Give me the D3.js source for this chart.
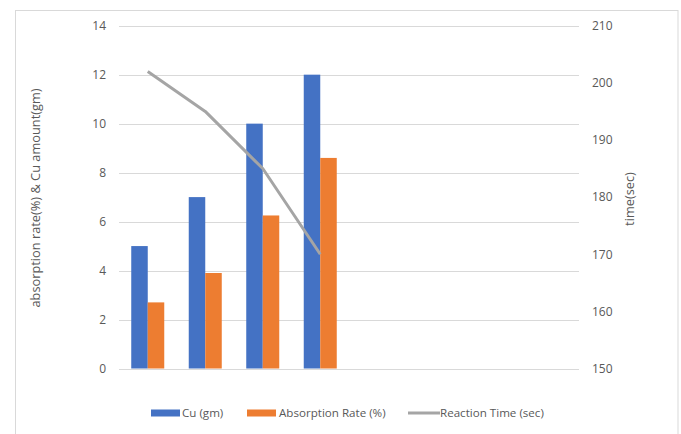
<!DOCTYPE html>
<html>
<head>
<meta charset="utf-8">
<script src="https://cdn.jsdelivr.net/npm/d3@7"></script>
<style>
  html, body { margin: 0; padding: 0; background: #fff; }
  svg { display: block; }
  text { font-family: "Open Sans", "Noto Sans", sans-serif; fill: #595959; }
</style>
</head>
<body>
<svg id="chart" width="681" height="434"></svg>
<script>
// Eight sample slots; only the first four carry measurements.
const categories = ["1", "2", "3", "4", "5", "6", "7", "8"];
const cuAmount = [5, 7, 10, 12];
const absorptionRate = [2.7, 3.9, 6.25, 8.6];
const reactionTime = [202, 195, 185, 170];
const leftTicks = [0, 2, 4, 6, 8, 10, 12, 14];
const rightTicks = [150, 160, 170, 180, 190, 200, 210];

const seriesNames = ["Cu (gm)", "Absorption Rate (%)", "Reaction Time (sec)"];
const colors = ["#4472C4", "#ED7D31", "#A5A5A5"];
const textColor = "#595959";

const svg = d3.select("#chart");
const plot = { left: 119, right: 579, top: 25.7, bottom: 368.5 };

// Chart frame
svg.append("rect")
  .attr("x", 15.5).attr("y", 10.5)
  .attr("width", 678 - 15.5).attr("height", 440)
  .attr("fill", "#fff").attr("stroke", "#d9d9d9").attr("stroke-width", 1);

const x = d3.scaleBand()
  .domain(categories)
  .range([plot.left, plot.right])
  .paddingInner(0.426)
  .paddingOuter(0.213);

const xSub = d3.scaleBand()
  .domain([0, 1])
  .range([0, x.bandwidth()]);

const yLeft = d3.scaleLinear().domain([0, 14]).range([plot.bottom, plot.top]);
const yRight = d3.scaleLinear().domain([150, 210]).range([plot.bottom, plot.top]);

// Gridlines
svg.append("g")
  .selectAll("line")
  .data(leftTicks)
  .join("line")
  .attr("x1", plot.left).attr("x2", plot.right)
  .attr("y1", d => Math.round(yLeft(d)) + 0.5)
  .attr("y2", d => Math.round(yLeft(d)) + 0.5)
  .attr("stroke", "#d9d9d9").attr("stroke-width", 1);

function styleAxis(g) {
  g.attr("color", textColor);
  g.select(".domain").remove();
  g.selectAll("text")
    .style("font-size", "12px")
    .style("font-family", "'Open Sans', 'Noto Sans', sans-serif")
    .style("fill", textColor);
}

// Left axis labels
svg.append("g")
  .attr("transform", `translate(${plot.left},0)`)
  .call(d3.axisLeft(yLeft).tickValues(leftTicks).tickSize(0).tickPadding(13))
  .call(styleAxis);

// Right axis labels
svg.append("g")
  .attr("transform", `translate(${plot.right},0)`)
  .call(d3.axisRight(yRight).tickValues(rightTicks).tickSize(0).tickPadding(13))
  .call(styleAxis);

// Clustered bars
const groups = svg.append("g")
  .selectAll("g")
  .data(cuAmount.map((v, i) => ({ cat: categories[i], vals: [v, absorptionRate[i]] })))
  .join("g")
  .attr("transform", d => `translate(${x(d.cat)},0)`);

groups.selectAll("rect")
  .data(d => d.vals.map((v, k) => ({ v, k })))
  .join("rect")
  .attr("x", d => xSub(d.k))
  .attr("width", xSub.bandwidth())
  .attr("y", d => yLeft(d.v))
  .attr("height", d => yLeft(0) - yLeft(d.v))
  .attr("fill", d => colors[d.k]);

// Reaction time line on the secondary axis
const line = d3.line()
  .x((d, i) => x(categories[i]) + x.bandwidth() / 2)
  .y(d => yRight(d));

svg.append("path")
  .datum(reactionTime)
  .attr("d", line)
  .attr("fill", "none")
  .attr("stroke", colors[2])
  .attr("stroke-width", 3)
  .attr("stroke-linejoin", "round");

// Axis titles
svg.append("text")
  .attr("transform", `translate(40,198) rotate(-90)`)
  .attr("text-anchor", "middle")
  .style("font-size", "12.8px")
  .text("absorption rate(%) & Cu amount(gm)");

svg.append("text")
  .attr("transform", `translate(634,199) rotate(-90)`)
  .attr("text-anchor", "middle")
  .style("font-size", "12.8px")
  .text("time(sec)");

// Legend
const legendY = 413;
const legendItems = [
  { name: seriesNames[0], color: colors[0], type: "bar", sx: 151, tx: 182 },
  { name: seriesNames[1], color: colors[1], type: "bar", sx: 247, tx: 279 },
  { name: seriesNames[2], color: colors[2], type: "line", sx: 408, tx: 440 }
];
const legend = svg.append("g");
legendItems.forEach(item => {
  if (item.type === "bar") {
    legend.append("rect")
      .attr("x", item.sx).attr("y", legendY - 3.5)
      .attr("width", 29).attr("height", 7)
      .attr("fill", item.color);
  } else {
    legend.append("line")
      .attr("x1", item.sx).attr("x2", item.sx + 32)
      .attr("y1", legendY).attr("y2", legendY)
      .attr("stroke", item.color).attr("stroke-width", 3);
  }
  legend.append("text")
    .attr("x", item.tx).attr("y", legendY)
    .attr("dy", "0.35em")
    .style("font-size", "11.6px")
    .text(item.name);
});
</script>
</body>
</html>
